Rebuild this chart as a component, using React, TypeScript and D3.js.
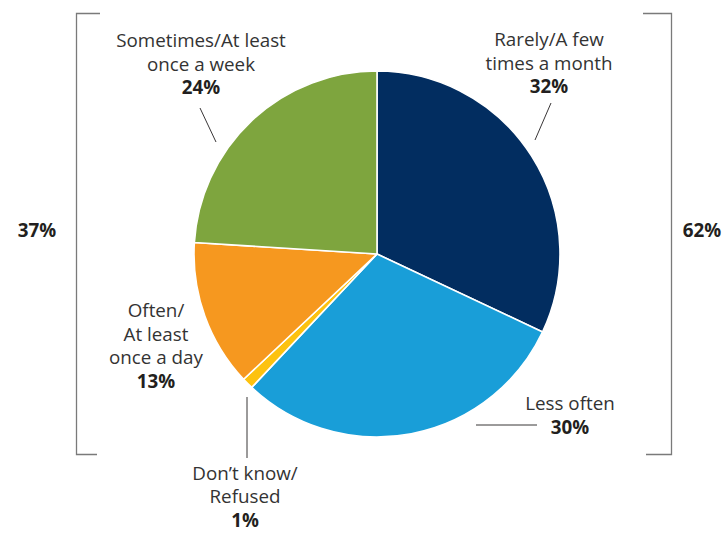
import React from "react";
import * as d3 from "d3";

const categories = ["Rarely/A few times a month", "Less often", "Don't know/Refused", "Often/At least once a day", "Sometimes/At least once a week"];
const values = [32, 30, 1, 13, 24];
const colors = ["#022d60", "#199ed8", "#fdc20f", "#f6981f", "#7ea53e"];
const labelLines = [
  ["Rarely/A few", "times a month"],
  ["Less often"],
  ["Don\u2019t know/", "Refused"],
  ["Often/", "At least", "once a day"],
  ["Sometimes/At least", "once a week"],
];
const groupTotals = [
  { label: "37%", members: [3, 4] },
  { label: "62%", members: [0, 1] },
];

const W = 723, H = 533;
const cx = 377, cy = 254, R = 183;
const LH = 23.5;
const FS = 18.8;
const FONT = "'Open Sans', 'Noto Sans', sans-serif";

// layout: label text center x, first baseline y, line height, leader line
const layout = [
  { x: 549, y: 46, lh: LH, leader: [[551, 103], [535, 140]] },
  { x: 570, y: 410, lh: LH, leader: [[476, 425], [537, 425]] },
  { x: 245, y: 479.5, lh: LH, leader: [[247, 397], [247, 458]] },
  { x: 156, y: 317, lh: LH, leader: null },
  { x: 201, y: 47, lh: LH, leader: [[200, 108], [216, 142]] },
];

export default function App() {
  const pie = d3.pie<number>().sort(null).startAngle(0).endAngle(2 * Math.PI);
  const arcs = pie(values);
  const arcGen = d3.arc<d3.PieArcDatum<number>>().innerRadius(0).outerRadius(R);
  const fmt = (v: number) => `${v}%`;
  const totals = groupTotals.map((g) => g.members.reduce((s, i) => s + values[i], 0));

  return (
    <svg width={W} height={H} style={{ position: "absolute", left: 0, top: 0, background: "#fff" }} fontFamily={FONT}>
      <g transform={`translate(${cx},${cy})`}>
        {arcs.map((a, i) => (
          <path key={i} d={arcGen(a) || ""} fill={colors[i]} stroke="#fff" strokeWidth={1.6} strokeLinejoin="round" />
        ))}
      </g>
      {/* brackets */}
      <path d="M100,13.5 H76.5 V454.5 H97" fill="none" stroke="#7a7a7a" strokeWidth={1.3} />
      <path d="M643,13.5 H671.5 V454.5 H646" fill="none" stroke="#7a7a7a" strokeWidth={1.3} />
      <text x={37} y={237} textAnchor="middle" fontSize={FS} fontWeight="bold" fill="#231f20">{groupTotals[0].label}</text>
      <text x={702} y={237} textAnchor="middle" fontSize={FS} fontWeight="bold" fill="#231f20">{groupTotals[1].label}</text>
      {/* labels */}
      {labelLines.map((lines, i) => {
        const L = layout[i];
        return (
          <g key={i}>
            {L.leader && (
              <line x1={L.leader[0][0]} y1={L.leader[0][1]} x2={L.leader[1][0]} y2={L.leader[1][1]} stroke="#231f20" strokeWidth={0.9} />
            )}
            <text textAnchor="middle" fontSize={FS} fill="#333">
              {lines.map((ln, j) => (
                <tspan key={j} x={L.x} y={L.y + j * L.lh}>{ln}</tspan>
              ))}
              <tspan x={L.x} y={L.y + lines.length * L.lh} fontWeight="bold" fill="#231f20">{fmt(values[i])}</tspan>
            </text>
          </g>
        );
      })}
      <title>{categories.join(", ") + " — totals " + totals.join(", ")}</title>
    </svg>
  );
}
